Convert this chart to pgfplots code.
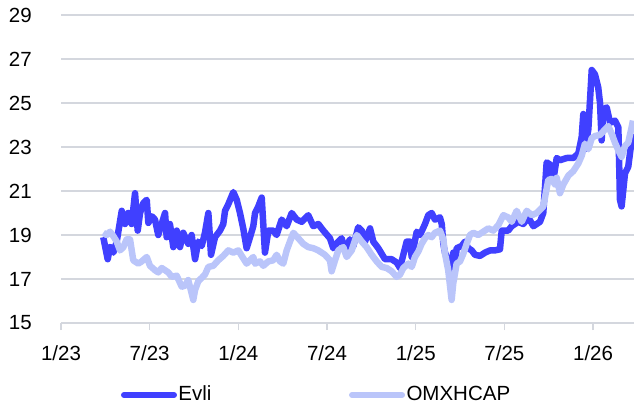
\documentclass[border=0pt]{standalone}
\usepackage{fontspec}
\setmainfont{Liberation Sans}
\usepackage{pgfplots}
\usepackage{pgfplotstable}
\pgfplotsset{compat=1.18}
\usetikzlibrary{calc}
\definecolor{evli}{RGB}{64,64,255}
\definecolor{omx}{RGB}{186,197,250}
\definecolor{gridc}{RGB}{212,215,222}

\pgfplotstableread{
m v
2.86 18.9
3.16 17.9
3.32 18.45
3.54 18.2
3.77 18.7
4.11 20.1
4.33 19.5
4.55 20.0
4.78 19.5
5.01 20.9
5.19 19.2
5.35 20.0
5.57 20.45
5.80 20.6
5.91 19.55
6.14 19.85
6.36 19.7
6.58 19.0
6.81 19.5
7.04 20.0
7.15 18.9
7.37 19.5
7.60 18.45
7.83 19.2
8.05 18.45
8.27 19.1
8.61 18.6
8.84 19.0
9.07 17.9
9.29 18.7
9.52 18.5
9.74 19.1
9.97 20.0
10.15 18.1
10.42 18.9
10.76 19.2
10.98 19.5
11.10 20.1
11.32 20.4
11.66 20.95
11.89 20.6
12.11 20.0
12.33 19.3
12.56 18.4
12.79 18.9
13.01 19.4
13.13 20.0
13.35 20.3
13.58 20.7
13.80 18.2
14.03 19.2
14.36 19.2
14.59 19.0
14.93 19.7
15.27 19.4
15.61 20.0
15.95 19.7
16.29 19.6
16.73 19.9
17.07 19.4
17.41 19.5
17.75 19.2
18.20 18.85
18.42 18.4
18.76 18.7
18.99 18.85
19.22 18.3
19.55 18.8
19.78 18.5
20.11 19.35
20.35 19.2
20.57 18.7
20.91 19.3
21.13 18.7
21.47 18.4
21.92 17.9
22.37 17.9
22.71 17.75
22.94 17.5
23.16 18.1
23.39 18.7
23.61 18.7
23.73 18.0
24.07 19.15
24.29 19.0
24.63 19.5
24.85 19.9
25.08 20.0
25.30 19.7
25.64 19.8
25.76 19.5
25.87 18.6
25.98 18.2
26.20 17.85
26.43 17.4
26.54 18.2
26.66 17.6
26.77 18.4
27.11 18.5
27.33 18.7
27.56 18.4
27.79 18.3
28.01 18.1
28.35 18.05
28.69 18.2
29.03 18.3
29.36 18.3
29.70 18.35
29.82 19.2
30.26 19.2
30.49 19.4
30.94 19.6
31.28 19.5
31.62 19.8
31.96 19.4
32.41 19.6
32.63 20.0
32.86 22.3
33.09 22.2
33.31 21.5
33.54 22.5
33.76 22.4
34.22 22.5
34.66 22.5
35.00 22.7
35.23 23.45
35.34 24.5
35.45 22.9
35.68 23.8
35.91 26.5
36.13 26.3
36.35 25.7
36.47 25.0
36.58 23.3
36.69 24.7
36.92 24.8
37.15 24.1
37.48 24.2
37.71 23.9
37.82 20.6
37.93 20.3
38.16 21.8
38.38 22.1
38.61 23.3
38.70 23.6
}\evlitable

\pgfplotstableread{
m v
2.86 19.1
3.09 19.0
3.32 19.15
3.54 18.95
3.77 18.7
3.99 18.3
4.22 18.45
4.44 18.8
4.67 18.8
4.89 17.85
5.23 17.7
5.46 17.8
5.80 18.0
6.02 17.6
6.36 17.4
6.58 17.3
6.81 17.5
7.04 17.4
7.26 17.3
7.49 17.1
7.83 17.15
8.17 16.65
8.39 16.7
8.61 16.95
8.84 16.35
8.95 16.05
9.07 16.5
9.29 16.9
9.52 17.05
9.74 17.2
9.97 17.55
10.30 17.6
10.64 17.85
10.98 18.05
11.32 18.3
11.66 18.2
12.00 18.3
12.23 18.05
12.56 17.7
12.79 17.85
13.01 18.0
13.13 17.7
13.46 17.8
13.69 17.6
14.03 17.8
14.36 17.85
14.59 18.1
14.82 17.8
15.04 17.7
15.27 18.3
15.49 18.7
15.72 19.1
16.06 18.85
16.39 18.6
16.73 18.45
17.07 18.4
17.41 18.3
17.86 18.1
18.20 17.85
18.31 17.35
18.54 17.85
18.76 18.3
19.10 18.45
19.33 18.0
19.67 18.3
20.01 19.0
20.35 18.7
20.68 18.45
21.02 18.1
21.36 17.8
21.70 17.55
22.04 17.5
22.37 17.35
22.71 17.1
22.94 17.2
23.16 17.5
23.50 17.7
23.73 17.55
23.95 18.0
24.18 18.25
24.40 18.6
24.63 18.85
24.85 19.0
25.08 18.9
25.30 19.1
25.64 19.2
25.87 18.8
25.98 18.15
26.20 17.4
26.43 16.05
26.54 16.8
26.77 17.7
27.00 17.8
27.22 18.15
27.45 18.6
27.67 19.0
27.90 19.1
28.23 19.0
28.57 19.15
28.91 19.3
29.25 19.2
29.59 19.45
29.93 19.9
30.26 19.8
30.49 19.6
30.83 20.1
31.17 19.6
31.51 20.1
31.85 19.9
32.19 20.0
32.63 20.3
32.97 21.5
33.20 21.55
33.42 21.3
33.54 21.6
33.76 20.9
33.99 21.3
34.33 21.7
34.66 21.9
35.00 22.25
35.23 22.6
35.45 23.15
35.68 22.9
35.91 23.4
36.13 23.5
36.47 23.55
36.81 23.8
37.03 23.95
37.26 23.6
37.48 23.2
37.71 22.85
37.93 22.55
38.16 23.05
38.38 23.2
38.61 23.9
38.70 24.2
}\omxtable

\begin{document}
\fontsize{20.5}{24}\selectfont
\begin{tikzpicture}
\begin{axis}[
  name=ax,
  scale only axis,
  width=573pt, height=308pt,
  xmin=0, xmax=38.77,
  ymin=15, ymax=29,
  axis x line*=bottom,
  axis y line*=left,
  y axis line style={draw=none},
  x axis line style={gridc, line width=1.2pt},
  ytick={15,17,...,29},
  ytick style={draw=none},
  ymajorgrids,
  grid style={gridc, line width=1.2pt},
  xtick={0,6,12,18,24,30,36},
  xticklabels={1/23,7/23,1/24,7/24,1/25,7/25,1/26},
  xtick style={gridc, line width=1.2pt},
  tick align=outside,
  major tick length=7pt,
  /pgf/number format/assume math mode=true,
  yticklabel style={inner sep=0pt, anchor=east, xshift=-22pt},
  xticklabel style={inner sep=0pt, anchor=north, yshift=-15pt},
  legend columns=2,
  legend style={draw=none, fill=none, inner sep=0pt, outer sep=0pt,
    at={(axis description cs:0.1047,-0.2338)}, anchor=west,
    nodes={inner sep=1.5pt},
    /tikz/every even column/.append style={column sep=136pt}},
  legend image code/.code={\draw[#1, line width=6pt, line cap=round] (3pt,0pt) -- (53pt,0pt);},
]
\addplot[evli, line width=6.5pt, line join=round] table[x=m, y=v] {\evlitable};
\addlegendentry{Evli}
\addplot[omx, line width=6.5pt, line join=round] table[x=m, y=v] {\omxtable};
\addlegendentry{OMXHCAP}
\end{axis}
\pgfresetboundingbox
\path[use as bounding box] ($(ax.south west)+(-61pt,-84pt)$) rectangle ($(ax.north east)+(0pt,15pt)$);
\end{tikzpicture}
\end{document}
